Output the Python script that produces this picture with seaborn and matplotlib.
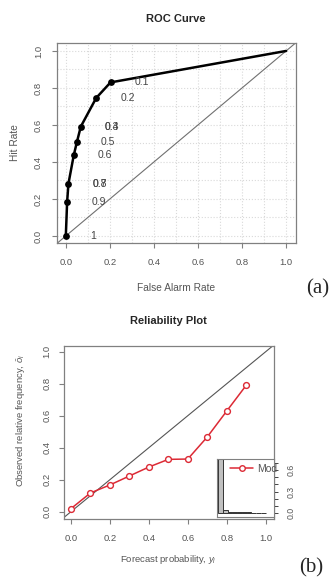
import numpy as np
import pandas as pd
import matplotlib
matplotlib.use("Agg")
import matplotlib.pyplot as plt
from matplotlib.lines import Line2D
import seaborn as sns

# ---------------- data ----------------
far = [0.0, 0.006, 0.012, 0.036, 0.050, 0.068, 0.138, 0.203, 1.0]
hit = [0.0, 0.185, 0.283, 0.436, 0.506, 0.591, 0.746, 0.830, 1.0]
thr_labels = ["1", "0.9", "0.8", "0.7", "0.6", "0.5", "0.4", "0.3", "0.2", "0.1"]
thr_point = [0, 1, 2, 2, 3, 4, 5, 5, 6, 7]

fcst = [0.0, 0.1, 0.2, 0.3, 0.4, 0.5, 0.6, 0.7, 0.8, 0.9]
obs = [0.019, 0.117, 0.167, 0.223, 0.279, 0.327, 0.329, 0.467, 0.629, 0.790]
hist_mid = [0.05, 0.15, 0.25, 0.35, 0.45, 0.55, 0.65, 0.75, 0.85, 0.95]
hist_freq = [0.78, 0.05, 0.025, 0.02, 0.02, 0.015, 0.015, 0.012, 0.01, 0.01]

ticks = [0.0, 0.2, 0.4, 0.6, 0.8, 1.0]
tick_labels = ["0.0", "0.2", "0.4", "0.6", "0.8", "1.0"]

# ---------------- style ----------------
sns.set_theme(style="white")
plt.rcParams["font.family"] = ["Liberation Sans", "DejaVu Sans"]
plt.rcParams["mathtext.fontset"] = "custom"
plt.rcParams["mathtext.rm"] = "Liberation Sans"
plt.rcParams["mathtext.it"] = "Liberation Sans:italic"

GRAY_TXT = "#555555"
SPINE = "#808080"
RED = "#dc2a35"

W, H = 333, 581
fig = plt.figure(figsize=(W / 100, H / 100), dpi=100)


def frac(l, r, t, b):
    return [l / W, 1 - b / H, (r - l) / W, (b - t) / H]


def style_axes(ax, ylabpad, xlabpad):
    for s in ax.spines.values():
        s.set_color(SPINE)
        s.set_linewidth(0.9)
    ax.set_xticks(ticks)
    ax.set_xticklabels(tick_labels)
    ax.set_yticks(ticks)
    ax.set_yticklabels(tick_labels)
    ax.tick_params(axis="both", which="both", direction="out", length=3.6,
                   width=0.8, color=SPINE, labelsize=6.8, labelcolor=GRAY_TXT,
                   bottom=True, left=True)
    ax.tick_params(axis="x", pad=xlabpad)
    ax.tick_params(axis="y", pad=ylabpad, labelrotation=90)
    for lab in ax.get_yticklabels():
        lab.set_va("center")


# ---------------- ROC ----------------
ax1 = fig.add_axes(frac(57, 296, 43, 243))
ax1.set_xlim(-0.04, 1.045)
ax1.set_ylim(-0.038, 1.043)
style_axes(ax1, ylabpad=6.5, xlabpad=7.5)
ax1.set_xticks(np.arange(0, 1.01, 0.1), minor=True)
ax1.set_yticks(np.arange(0, 1.01, 0.1), minor=True)
ax1.tick_params(which="minor", length=0)
ax1.grid(True, which="both", color="#d9d9d9", linestyle=":", linewidth=0.8)
ax1.set_axisbelow(True)

sns.lineplot(x=[-0.1, 1.1], y=[-0.1, 1.1], ax=ax1, color="#707070",
             linewidth=0.8, sort=False)
roc = pd.DataFrame({"far": far, "hit": hit})
sns.lineplot(data=roc, x="far", y="hit", ax=ax1, color="black",
             linewidth=1.8, sort=False)
sns.scatterplot(data=roc.iloc[:-1], x="far", y="hit", ax=ax1, color="black",
                s=24, edgecolor="black", linewidth=0, zorder=5)
for lab, idx in zip(thr_labels, thr_point):
    ax1.text(far[idx] + 0.11, hit[idx], lab, fontsize=7.5, color="#444444",
             ha="left", va="center")
ax1.set_xlabel("")
ax1.set_ylabel("")

fig.text(176 / W, 1 - 19 / H, "ROC Curve", ha="center", va="center",
         fontsize=8, fontweight="bold")
fig.text(176 / W, 1 - 288 / H, "False Alarm Rate", ha="center", va="center",
         fontsize=7.3, color=GRAY_TXT)
fig.text(15 / W, 1 - 143 / H, "Hit Rate", ha="center", va="center",
         fontsize=7.3, color=GRAY_TXT, rotation=90)
fig.text(318 / W, 1 - 289 / H, "(a)", ha="center", va="center",
         fontsize=15, family=["Liberation Serif", "DejaVu Serif"])

# ---------------- Reliability ----------------
ax2 = fig.add_axes(frac(64, 274, 346, 519))
ax2.set_xlim(-0.036, 1.043)
ax2.set_ylim(-0.046, 1.036)
style_axes(ax2, ylabpad=5.5, xlabpad=7)
sns.lineplot(x=[-0.1, 1.1], y=[-0.1, 1.1], ax=ax2, color="#555555",
             linewidth=0.8, sort=False)
rel = pd.DataFrame({"fcst": fcst, "obs": obs})
sns.lineplot(data=rel, x="fcst", y="obs", ax=ax2, color=RED, linewidth=1.1,
             sort=False, marker="o", markersize=4.2, markerfacecolor="white",
             markeredgecolor=RED, markeredgewidth=1.0)
ax2.set_xlabel("")
ax2.set_ylabel("")

fig.text(168 / W, 1 - 321 / H, "Reliability Plot", ha="center", va="center",
         fontsize=8, fontweight="bold")
fig.text(168 / W, 1 - 559 / H, r"Forecast probability, $y_i$", ha="center",
         va="center", fontsize=6.8, color=GRAY_TXT)
fig.text(21 / W, 1 - 420 / H, r"Observed relative frequency, $\bar{o}_i$",
         ha="center", va="center", fontsize=6.8, color=GRAY_TXT, rotation=90)
fig.text(311 / W, 1 - 568 / H, "(b)", ha="center", va="center",
         fontsize=15, family=["Liberation Serif", "DejaVu Serif"])

# ---------------- inset histogram ----------------
ax3 = fig.add_axes(frac(217, 274, 459, 517))
ax3.set_facecolor("white")
hist_df = pd.DataFrame({"mid": hist_mid, "freq": hist_freq})
sns.histplot(data=hist_df, x="mid", weights="freq", bins=10, binrange=(0, 1),
             ax=ax3, color="#c0c0c0", edgecolor="#333333", linewidth=0.7,
             alpha=1)
ax3.set_xlim(-0.02, 1.17)
ax3.set_ylim(-0.05, 0.75)
ax3.set_xticks([])
ax3.yaxis.tick_right()
ax3.set_yticks([0.0, 0.3, 0.6])
ax3.set_yticklabels(["0.0", "0.3", "0.6"])
ax3.set_yticks(np.arange(0, 0.71, 0.1), minor=True)
ax3.tick_params(axis="y", which="both", direction="out", length=3,
                width=0.7, color="#444444", labelsize=6.3, labelcolor=GRAY_TXT,
                right=True, left=False, labelrotation=90, pad=6)
for lab in ax3.get_yticklabels():
    lab.set_va("center")
for s in ax3.spines.values():
    s.set_color(SPINE)
    s.set_linewidth(0.8)
ax3.set_xlabel("")
ax3.set_ylabel("")
handle = Line2D([], [], color=RED, marker="o", markersize=4,
                markerfacecolor="white", markeredgecolor=RED, linewidth=1.1)
ax3.legend(handles=[handle], labels=["Mod"], loc="upper left",
           bbox_to_anchor=(0.12, 1.02), frameon=False, fontsize=7.5,
           handlelength=2.2, handletextpad=0.4, labelcolor=GRAY_TXT,
           borderaxespad=0.2)

fig.savefig("out.png", dpi=100)
